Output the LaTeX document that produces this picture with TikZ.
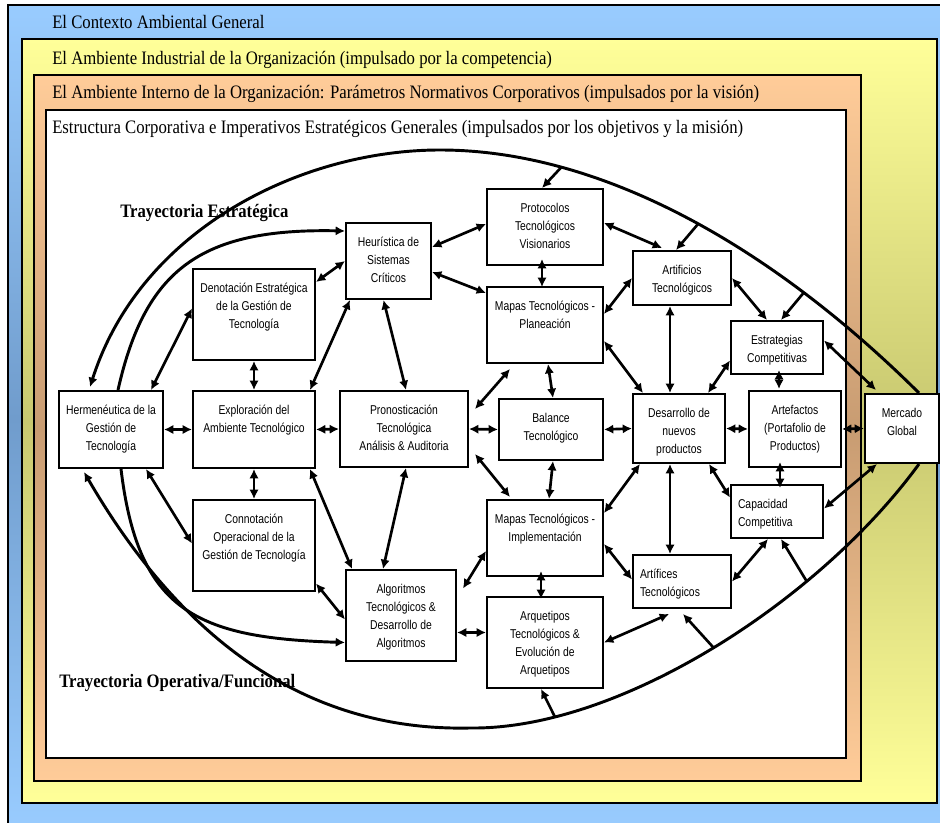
\documentclass[tikz,border=0pt]{standalone}
\usepackage{fontspec}
\usepackage{tikz}
\usetikzlibrary{arrows.meta,positioning,calc}
\newfontfamily\cajafont{Liberation Sans}[FakeStretch=0.81]
\newfontfamily\marcofont{Liberation Serif}[FakeStretch=0.88]
\definecolor{cielo}{RGB}{153,204,255}
\definecolor{cielooscuro}{RGB}{112,156,204}
\definecolor{crema}{RGB}{255,255,153}
\definecolor{cremaoscuro}{RGB}{200,200,112}
\definecolor{salmon}{RGB}{255,204,153}
\definecolor{salmonoscuro}{RGB}{200,156,114}
\newdimen\unidad
\unidad=0.75pt
\newcommand\alinea{\centering}

\begin{document}
\begin{tikzpicture}[
    x=0.75pt, y=-0.75pt,
    >={Latex[length=7pt,width=7pt]},
    marco/.style={draw=black, line width=1.1pt},
    titulo/.style={anchor=base west, inner sep=0pt, font=\marcofont\fontsize{14.25}{16}\selectfont},
    trayecto/.style={anchor=base west, inner sep=0pt, font=\marcofont\bfseries\fontsize{14.25}{16}\selectfont},
    caja/.style 2 args={draw, fill=white, line width=1.5pt, anchor=north west, inner sep=0pt,
                 font=\cajafont\fontsize{9.6}{13.5}\selectfont,
                 execute at begin node={\begin{minipage}[t][#2\unidad][t]{#1\unidad}\alinea\rule{0pt}{23.5\unidad}},
                 execute at end node={\end{minipage}}},
    izq/.code={\def\alinea{\raggedright\leftskip=7\unidad\relax}},
    arr/.style={<->, line width=2pt},
    rama/.style={->, line width=2pt},
    curva/.style={->, line width=2.2pt}
  ]
    \useasboundingbox (0,0) rectangle (940,823);
    \clip (0,0) rectangle (940,823);
    \fill[white] (0,0) rectangle (940,823);

    % marcos de los ambientes
    \shadedraw[marco, top color=cielo, bottom color=cielo, middle color=cielooscuro] (8,5) rectangle (946,832);
    \shadedraw[marco, top color=crema, bottom color=crema, middle color=cremaoscuro] (22,39) rectangle (937,803);
    \shadedraw[marco, top color=salmon, bottom color=salmon, middle color=salmonoscuro] (34,75) rectangle (861,781);
    \filldraw[marco, fill=white] (46,110) rectangle (846,758);

    \node[titulo] (tctx) at (52,29) {El Contexto Ambiental General};
    \node[titulo] (tind) at (52,65) {El Ambiente Industrial de la Organización (impulsado por la competencia)};
    \node[titulo] (tint) at (52,99) {El Ambiente Interno de la Organización: Parámetros Normativos Corporativos (impulsados por la visión)};
    \node[titulo] (test) at (52,134) {Estructura Corporativa e Imperativos Estratégicos Generales (impulsados por los objetivos y la misión)};

    \node[trayecto] (tre) at (120,218) {Trayectoria Estratégica};
    \node[trayecto] (tro) at (59,687) {Trayectoria Operativa/Funcional};

    % cajas
    \node[caja={104}{77}] (herm) at (58,390) {Hermenéutica de la\\Gestión de\\Tecnología};
    \node[caja={122}{77}] (expl) at (192,390) {Exploración del\\Ambiente Tecnológico};
    \node[caja={122}{91}] (deno) at (192,268) {Denotación Estratégica\\de la Gestión de\\Tecnología};
    \node[caja={122}{91}] (conn) at (192,499) {Connotación\\Operacional de la\\Gestión de Tecnología};
    \node[caja={85}{76}] (heur) at (345,222) {Heurística de\\Sistemas\\Críticos};
    \node[caja={128}{76}] (pron) at (339,390) {Pronosticación\\Tecnológica\\Análisis \& Auditoria};
    \node[caja={110}{91}] (algo) at (345,569) {Algoritmos\\Tecnológicos \&\\Desarrollo de\\Algoritmos};
    \node[caja={116}{76}] (prot) at (486,188) {Protocolos\\Tecnológicos\\Visionarios};
    \node[caja={116}{76}] (mapp) at (486,286) {Mapas Tecnológicos -\\Planeación};
    \node[caja={104}{61}] (bala) at (498,398) {Balance\\Tecnológico};
    \node[caja={116}{76}] (mapi) at (486,499) {Mapas Tecnológicos -\\Implementación};
    \node[caja={116}{91}] (arqu) at (486,596) {Arquetipos\\Tecnológicos \&\\Evolución de\\Arquetipos};
    \node[caja={98}{54}] (arti) at (632,250) {Artificios\\Tecnológicos};
    \node[caja={92}{69}] (desa) at (632,393) {Desarrollo de\\nuevos\\productos};
    \node[caja={98}{53}, izq] (artf) at (632,554) {Artífices\\Tecnológicos};
    \node[caja={92}{53}] (estr) at (730,320) {Estrategias\\Competitivas};
    \node[caja={92}{76}] (arte) at (748,390) {Artefactos\\(Portafolio de\\Productos)};
    \node[caja={92}{53}, izq] (capa) at (730,484) {Capacidad\\Competitiva};
    \node[caja={74}{69}] (merc) at (864,393) {Mercado\\Global};

    % trayectorias
    \draw[curva] ($(merc.north)+(17,0)$) .. controls (770,245) and (600,150) .. (440,150)
        coordinate[pos=0.25] (ramaA) coordinate[pos=0.47] (ramaB) coordinate[pos=0.75] (ramaC)
        .. controls (300,150) and (140,230) .. ($(herm.north)+(-21,-3)$);
    \draw[curva] ($(merc.south)+(17,0)$) .. controls (820,600) and (620,730) .. (470,728)
        coordinate[pos=0.3] (ramaD) coordinate[pos=0.5] (ramaE) coordinate[pos=0.82] (ramaF)
        .. controls (290,732) and (170,620) .. ($(herm.south)+(-27,3)$);
    \draw[curva] ($(herm.north)+(7,0)$) .. controls (145,270) and (200,228) .. ($(heur.north west)+(0,9)$);
    \draw[curva] ($(herm.south)+(10,0)$) .. controls (138,610) and (195,638) .. ($(algo.west)+(0,27)$);

    \draw[rama] (ramaA) -- ($(estr.north)+(4,0)$);
    \draw[rama] (ramaB) -- ($(arti.north)+(-6,0)$);
    \draw[rama] (ramaC) -- ($(prot.north)+(-3,0)$);
    \draw[rama] (ramaD) -- ($(capa.south)+(4,0)$);
    \draw[rama] (ramaE) -- ($(artf.south)+(1,5)$);
    \draw[rama] (ramaF) -- ($(arqu.south)+(-4,0)$);

    % relaciones
    \draw[arr] (herm.east) -- (expl.west);
    \draw[arr] (expl.east) -- (pron.west);
    \draw[arr] (pron.east) -- (bala.west);
    \draw[arr] (bala.east) -- (desa.west);
    \draw[arr] (desa.east) -- (arte.west);
    \draw[arr] (arte.east) -- (merc.west);
    \draw[arr] (deno.south) -- (expl.north);
    \draw[arr] (expl.south) -- (conn.north);
    \draw[arr] ($(herm.north)+(40,0)$) -- ($(deno.west)+(0,-6)$);
    \draw[arr] ($(herm.south)+(35,0)$) -- ($(conn.west)+(0,-2)$);
    \draw[arr] ($(deno.north east)+(0,14)$) -- (heur.west);
    \draw[arr] ($(expl.north east)+(-6,0)$) -- ($(heur.south west)+(5,0)$);
    \draw[arr] ($(heur.south)+(-5,0)$) -- ($(pron.north)+(2,0)$);
    \draw[arr] ($(heur.east)+(0,-14)$) -- ($(prot.west)+(0,-3)$);
    \draw[arr] ($(heur.east)+(0,11)$) -- ($(mapp.north west)+(0,7)$);
    \draw[arr] ($(prot.south)+(-3,-7)$) -- ($(mapp.north)+(-3,1)$);
    \draw[arr] ($(prot.east)+(0,-4)$) -- ($(arti.north)+(-20,-2)$);
    \draw[arr] ($(mapp.east)+(0,-11)$) -- (arti.west);
    \draw[arr] ($(mapp.south)+(3,0)$) -- ($(bala.north)+(2,0)$);
    \draw[arr] ($(mapp.east)+(0,16)$) -- ($(desa.north west)+(11,0)$);
    \draw[arr] ($(arti.south)+(-12,0)$) -- ($(desa.north)+(-9,0)$);
    \draw[arr] (arti.east) -- ($(estr.north)+(-10,0)$);
    \draw[arr] ($(estr.west)+(0,13)$) -- ($(desa.north east)+(-18,0)$);
    \draw[arr] ($(estr.south)+(2,-5)$) -- ($(arte.north)+(-16,-1)$);
    \draw[arr] ($(estr.east)+(0,-7)$) -- ($(merc.north west)+(12,-3)$);
    \draw[arr] ($(pron.east)+(6,-20)$) -- ($(mapp.south west)+(24,5)$);
    \draw[arr] ($(pron.east)+(6,25)$) -- ($(mapi.north west)+(24,-2)$);
    \draw[arr] ($(bala.south)+(2,0)$) -- ($(mapi.north)+(4,0)$);
    \draw[arr] ($(desa.south west)+(8,0)$) -- ($(mapi.east)+(0,-25)$);
    \draw[arr] ($(desa.south)+(-9,0)$) -- ($(artf.north)+(-12,0)$);
    \draw[arr] ($(desa.south east)+(-17,0)$) -- ($(capa.west)+(0,-14)$);
    \draw[arr] ($(arte.south)+(-15,-6)$) -- ($(capa.north)+(3,4)$);
    \draw[arr] ($(capa.east)+(0,-3)$) -- ($(merc.south west)+(13,0)$);
    \draw[arr] ($(capa.south)+(-9,0)$) -- (artf.east);
    \draw[arr] ($(mapi.east)+(0,6)$) -- ($(artf.west)+(0,-2)$);
    \draw[arr] ($(mapi.south)+(-4,-6)$) -- ($(arqu.north)+(-4,3)$);
    \draw[arr] (arqu.east) -- ($(artf.south)+(-13,5)$);
    \draw[arr] ($(algo.east)+(0,17)$) -- ($(arqu.west)+(0,-10)$);
    \draw[arr] ($(algo.east)+(6,-27)$) -- ($(mapi.west)+(0,13)$);
    \draw[arr] ($(conn.east)+(0,38)$) -- ($(algo.west)+(0,4)$);
    \draw[arr] ($(expl.south east)+(-6,0)$) -- ($(algo.north west)+(7,0)$);
    \draw[arr] ($(pron.south)+(2,0)$) -- ($(algo.north)+(-18,0)$);
\end{tikzpicture}
\end{document}
